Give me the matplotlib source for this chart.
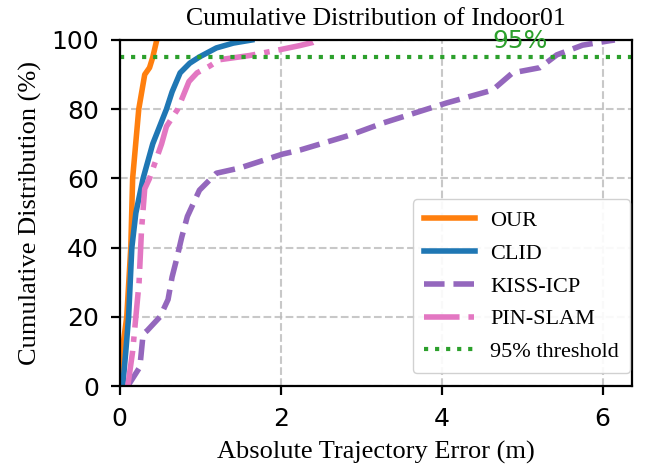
import numpy as np
import matplotlib.pyplot as plt

## CDF points (error [m], cumulative %)
our_x  = [0.0, 0.03, 0.087, 0.137, 0.16, 0.236, 0.31, 0.37, 0.41, 0.46]
our_y  = [0.0, 10.0, 20.0, 40.0, 60.0, 80.0, 90.0, 92.0, 95.0, 100.0]

clid_x = [0.037, 0.075, 0.11, 0.15, 0.20, 0.29, 0.41, 0.58, 0.65, 0.75, 0.87, 0.99, 1.20, 1.41, 1.64]
clid_y = [0.0, 10.0, 20.0, 40.0, 50.0, 60.0, 70.0, 80.0, 85.0, 90.5, 93.3, 95.1, 97.7, 99.1, 100.0]

kiss_x = [0.10, 0.25, 0.29, 0.34, 0.50, 0.60, 0.65, 0.71, 0.77, 0.84, 0.99, 1.20, 1.49, 2.02,
          2.24, 2.86, 3.27, 4.06, 4.63, 4.88, 5.22, 5.43, 5.75, 6.09, 6.15]
kiss_y = [0.0, 5.5, 15.0, 16.0, 20.0, 25.0, 31.5, 37.0, 43.0, 49.0, 56.6, 61.5, 63.0, 67.0,
          68.2, 72.5, 76.0, 81.8, 85.5, 90.5, 92.0, 95.7, 98.5, 99.8, 100.0]

pin_x  = [0.10, 0.16, 0.20, 0.24, 0.27, 0.31, 0.37, 0.52, 0.58, 0.72, 0.86, 0.96, 1.12, 1.24,
          1.61, 1.99, 2.24, 2.40, 2.46]
pin_y  = [0.0, 10.0, 20.0, 30.0, 45.0, 57.0, 60.0, 70.0, 75.0, 80.0, 88.0, 90.5, 92.5, 94.3,
          95.5, 97.2, 98.4, 99.3, 100.0]

thr = 95.0

fig = plt.figure(figsize=(6.58, 4.76), dpi=100)
ax = fig.add_axes([0.182, 0.189, 0.778, 0.727])

ax.plot(our_x, our_y, color='#ff7f0e', lw=4, label='OUR')
ax.plot(clid_x, clid_y, color='#1f77b4', lw=4, label='CLID')
ax.plot(kiss_x, kiss_y, color='#9467bd', lw=4, ls='--', label='KISS-ICP')
ax.plot(pin_x, pin_y, color='#e377c2', lw=4, ls='-.', label='PIN-SLAM')
ax.axhline(thr, color='#2ca02c', lw=3, ls=':', label='95% threshold')
ax.text(4.97, 97.7, '95%', color='#2ca02c', fontsize=18, ha='center', va='baseline')

ax.set_xlim(0, 6.36)
ax.set_ylim(0, 100)
ax.set_xticks([0, 2, 4, 6])
ax.set_yticks([0, 20, 40, 60, 80, 100])
ax.tick_params(labelsize=18, width=1.6, length=6.5, pad=8.5)
for s in ax.spines.values():
    s.set_linewidth(1.6)
ax.grid(True, ls='--', color='#bbbbbb', lw=1.5, alpha=0.8)

ax.set_title('Cumulative Distribution of Indoor01', family='Liberation Serif', fontsize=18.5, pad=11)
ax.set_xlabel('Absolute Trajectory Error (m)', family='Liberation Serif', fontsize=19, labelpad=7.5)
ax.set_ylabel('Cumulative Distribution (%)', family='Liberation Serif', fontsize=19, labelpad=7)
ax.legend(loc='lower right', bbox_to_anchor=(0.997, 0.037),
          prop={'family': 'Liberation Serif', 'size': 16},
          handlelength=2.3, handletextpad=0.7, labelspacing=0.55, borderpad=0.5,
          framealpha=0.9, borderaxespad=0.0)

fig.savefig('out.png', dpi=100)
